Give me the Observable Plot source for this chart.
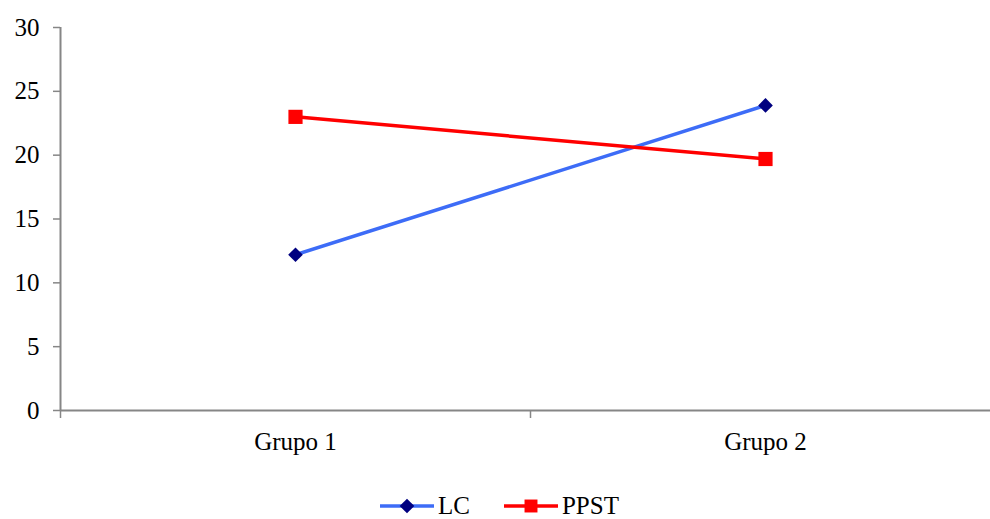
<!DOCTYPE html>
<html>
<head>
<meta charset="utf-8">
<script src="https://cdn.jsdelivr.net/npm/d3@7"></script>
<script src="https://cdn.jsdelivr.net/npm/@observablehq/plot@0.6"></script>
<style>
  html, body { margin: 0; padding: 0; background: #fff; overflow: hidden; }
  #wrap { position: relative; width: 990px; height: 519px; }
  #legend { position: absolute; left: 380px; top: 492px; display: flex; align-items: center;
            font-family: "Liberation Serif", "Times New Roman", serif; font-size: 25px; color: #000; }
  .item { display: flex; align-items: center; margin-right: 34px; }
  .item svg { display: block; margin-right: 4px; }
</style>
</head>
<body>
<div id="wrap"><div id="chart"></div><div id="legend"></div></div>
<script>
const groups = ["Grupo 1", "Grupo 2"];
const seriesNames = ["LC", "PPST"];
const lcValues = [12.2, 23.9];
const ppstValues = [23.0, 19.7];
const yTicks = [0, 5, 10, 15, 20, 25, 30];
const lineColors = ["#3d6cf7", "#ff0000"];
const markerColors = ["#000080", "#ff0000"];
const markerSymbols = ["diamond2", "square"];

const seriesValues = [lcValues, ppstValues];
const data = seriesNames.flatMap((s, si) =>
  groups.map((g, gi) => ({ series: s, si, group: g, pos: gi + 0.5, value: seriesValues[si][gi] }))
);
const boundaries = d3.range(groups.length + 1);
const centers = groups.map((g, i) => i + 0.5);

const axisColor = "#868686";
const H = 468;

const chart = Plot.plot({
  width: 990,
  height: H,
  marginTop: 27,
  marginBottom: H - 410,
  marginLeft: 60,
  marginRight: 0,
  style: { fontFamily: "Liberation Serif, Times New Roman, serif", fontSize: "25px", color: "#000", background: "#fff", overflow: "visible" },
  x: { type: "linear", domain: [0, groups.length], range: [60, 1000] },
  y: { domain: [0, 30], range: [410, 27] },
  marks: [
    Plot.axisY({ ticks: yTicks, tickSize: 7, tickPadding: 14, stroke: axisColor, strokeWidth: 1.5, fill: "#000", label: null, fontSize: 25 }),
    Plot.axisX({ ticks: boundaries, tickSize: 8, tickFormat: () => "", stroke: axisColor, strokeWidth: 1.5, label: null }),
    Plot.axisX({ ticks: centers, tickSize: 0, tickPadding: 22, tickFormat: d => groups[Math.floor(d)], fill: "#000", label: null, fontSize: 25 }),
    Plot.ruleX([0], { y1: 0, y2: 30, stroke: axisColor, strokeWidth: 2 }),
    Plot.ruleY([0], { x1: 0, x2: groups.length, stroke: axisColor, strokeWidth: 2 }),
    ...seriesNames.map((s, si) =>
      Plot.line(data.filter(d => d.si === si), { x: "pos", y: "value", stroke: lineColors[si], strokeWidth: 3.5 })
    ),
    ...seriesNames.map((s, si) =>
      Plot.dot(data.filter(d => d.si === si), { x: "pos", y: "value", symbol: () => markerSymbols[si], r: si === 0 ? 6.6 : 8, fill: markerColors[si], stroke: "none" })
    )
  ]
});
document.getElementById("chart").appendChild(chart);

// Legend
const legend = document.getElementById("legend");
seriesNames.forEach((s, si) => {
  const item = document.createElement("div");
  item.className = "item";
  const svg = d3.create("svg").attr("width", 54).attr("height", 20);
  svg.append("line").attr("x1", 0).attr("x2", 54).attr("y1", 10).attr("y2", 10)
     .attr("stroke", lineColors[si]).attr("stroke-width", 3.5);
  const sym = si === 0 ? d3.symbolDiamond2 : d3.symbolSquare;
  const size = si === 0 ? 6.6 * 6.6 * Math.PI : 7.3 * 7.3 * Math.PI;
  svg.append("path").attr("d", d3.symbol(sym, size)()).attr("transform", "translate(27,10)")
     .attr("fill", markerColors[si]);
  item.appendChild(svg.node());
  const label = document.createElement("span");
  label.textContent = s;
  item.appendChild(label);
  legend.appendChild(item);
});
</script>
</body>
</html>
